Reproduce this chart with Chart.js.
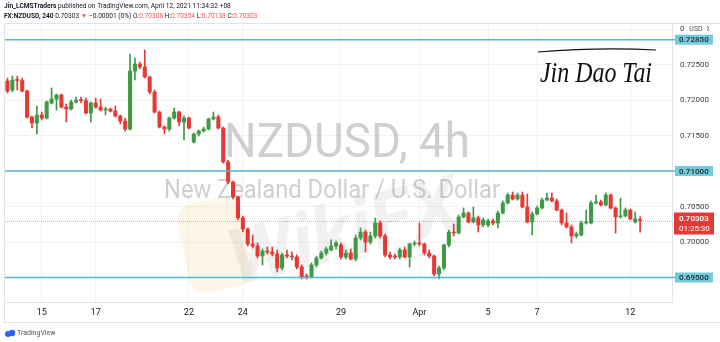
<!DOCTYPE html>
<html>
<head>
<meta charset="utf-8">
<title>NZDUSD, 4h</title>
<script src="https://cdn.jsdelivr.net/npm/chart.js@4.4.1/dist/chart.umd.min.js"></script>
<style>
  html, body { margin: 0; padding: 0; background: #fff; }
  #chart { display: block; }
</style>
</head>
<body>
<canvas id="chart" width="720" height="342"></canvas>
<script>
// 4h candles, NZDUSD, 12 Mar - 12 Apr 2021
const opens = [
  0.72268, 0.72141, 0.72282, 0.72275, 0.72127, 0.71761, 0.71676, 0.71789, 0.71746, 0.71958,
  0.72014, 0.72070, 0.71901, 0.71873, 0.71972, 0.72000, 0.71993, 0.71817, 0.71958, 0.71901,
  0.71859, 0.71873, 0.71845, 0.71775, 0.71704, 0.71592, 0.72408, 0.72507, 0.72465, 0.72324,
  0.72113, 0.71831, 0.71620, 0.71592, 0.71746, 0.71831, 0.71690, 0.71746, 0.71408, 0.71521,
  0.71563, 0.71592, 0.71732, 0.71761, 0.71606, 0.71127, 0.70845, 0.70634, 0.70339, 0.70183,
  0.69972, 0.69944, 0.69803, 0.69874, 0.69859, 0.69831, 0.69634, 0.69817, 0.69803, 0.69789,
  0.69648, 0.69521, 0.69507, 0.69677, 0.69775, 0.69845, 0.69888, 0.69944, 0.69958, 0.69789,
  0.69845, 0.69761, 0.70057, 0.70141, 0.70000, 0.70085, 0.70268, 0.70085, 0.69817, 0.69803,
  0.69789, 0.69888, 0.69789, 0.69972, 0.69986, 0.69972, 0.69845, 0.69803, 0.69550, 0.69634,
  0.69958, 0.70141, 0.70127, 0.70353, 0.70409, 0.70282, 0.70339, 0.70240, 0.70240, 0.70296,
  0.70268, 0.70409, 0.70550, 0.70662, 0.70606, 0.70662, 0.70493, 0.70282, 0.70395, 0.70479,
  0.70592, 0.70620, 0.70578, 0.70451, 0.70268, 0.70212, 0.70085, 0.70099, 0.70268, 0.70268,
  0.70550, 0.70564, 0.70522, 0.70662, 0.70479, 0.70353, 0.70367, 0.70451, 0.70282, 0.70308
];
const highs = [
  0.72310, 0.72338, 0.72338, 0.72310, 0.72141, 0.71775, 0.71915, 0.71831, 0.71986, 0.72169,
  0.72085, 0.72085, 0.71944, 0.72000, 0.72042, 0.72042, 0.72028, 0.71972, 0.72028, 0.72014,
  0.71901, 0.71887, 0.71915, 0.71789, 0.71746, 0.72648, 0.72592, 0.72535, 0.72704, 0.72338,
  0.72141, 0.71845, 0.71634, 0.71761, 0.71887, 0.71845, 0.71775, 0.71761, 0.71535, 0.71577,
  0.71620, 0.71746, 0.71831, 0.71789, 0.71620, 0.71155, 0.70859, 0.70648, 0.70367, 0.70198,
  0.70099, 0.69986, 0.69902, 0.69930, 0.69930, 0.69888, 0.69845, 0.69888, 0.69859, 0.69817,
  0.69677, 0.69550, 0.69705, 0.69803, 0.69874, 0.69930, 0.70029, 0.70014, 0.69986, 0.69888,
  0.69902, 0.70099, 0.70198, 0.70169, 0.70141, 0.70339, 0.70296, 0.70113, 0.69859, 0.69831,
  0.69916, 0.69930, 0.69986, 0.70014, 0.70268, 0.69986, 0.69888, 0.69817, 0.69662, 0.69972,
  0.70169, 0.70254, 0.70381, 0.70479, 0.70423, 0.70493, 0.70367, 0.70339, 0.70324, 0.70324,
  0.70437, 0.70578, 0.70690, 0.70704, 0.70690, 0.70704, 0.70676, 0.70423, 0.70507, 0.70620,
  0.70690, 0.70690, 0.70606, 0.70465, 0.70409, 0.70240, 0.70141, 0.70296, 0.70451, 0.70578,
  0.70662, 0.70592, 0.70690, 0.70676, 0.70493, 0.70620, 0.70479, 0.70465, 0.70423, 0.70354
];
const lows = [
  0.72099, 0.72113, 0.72141, 0.72113, 0.71746, 0.71606, 0.71521, 0.71718, 0.71732, 0.71944,
  0.71859, 0.71887, 0.71690, 0.71859, 0.71958, 0.71958, 0.71803, 0.71690, 0.71887, 0.71845,
  0.71789, 0.71831, 0.71761, 0.71662, 0.71563, 0.71577, 0.72282, 0.72437, 0.72310, 0.72085,
  0.71817, 0.71606, 0.71521, 0.71563, 0.71732, 0.71634, 0.71437, 0.71592, 0.71394, 0.71493,
  0.71549, 0.71577, 0.71718, 0.71592, 0.71113, 0.70817, 0.70606, 0.70310, 0.70141, 0.69944,
  0.69916, 0.69775, 0.69677, 0.69831, 0.69803, 0.69578, 0.69606, 0.69775, 0.69747, 0.69620,
  0.69479, 0.69479, 0.69493, 0.69648, 0.69761, 0.69817, 0.69874, 0.69902, 0.69761, 0.69761,
  0.69747, 0.69733, 0.70029, 0.69859, 0.69972, 0.70057, 0.70057, 0.69789, 0.69761, 0.69761,
  0.69761, 0.69775, 0.69648, 0.69944, 0.69944, 0.69817, 0.69775, 0.69521, 0.69479, 0.69606,
  0.69930, 0.70085, 0.70113, 0.70339, 0.70268, 0.70268, 0.70141, 0.70212, 0.70212, 0.70240,
  0.70198, 0.70395, 0.70536, 0.70592, 0.70592, 0.70479, 0.70268, 0.70099, 0.70381, 0.70465,
  0.70578, 0.70564, 0.70437, 0.70240, 0.70198, 0.69986, 0.70057, 0.70085, 0.70254, 0.70254,
  0.70536, 0.70508, 0.70508, 0.70465, 0.70127, 0.70339, 0.70353, 0.70310, 0.70268, 0.70138
];
const closes = [
  0.72127, 0.72282, 0.72275, 0.72127, 0.71761, 0.71676, 0.71789, 0.71746, 0.71972, 0.72014,
  0.72070, 0.71901, 0.71873, 0.71972, 0.72000, 0.71993, 0.71817, 0.71958, 0.71901, 0.71859,
  0.71873, 0.71845, 0.71775, 0.71704, 0.71592, 0.72408, 0.72507, 0.72465, 0.72324, 0.72113,
  0.71831, 0.71620, 0.71592, 0.71746, 0.71831, 0.71690, 0.71746, 0.71606, 0.71521, 0.71563,
  0.71592, 0.71732, 0.71761, 0.71606, 0.71127, 0.70845, 0.70634, 0.70339, 0.70183, 0.69972,
  0.69944, 0.69803, 0.69874, 0.69859, 0.69831, 0.69634, 0.69817, 0.69803, 0.69789, 0.69648,
  0.69507, 0.69500, 0.69677, 0.69775, 0.69845, 0.69902, 0.69944, 0.69986, 0.69789, 0.69845,
  0.69761, 0.70057, 0.70141, 0.70000, 0.70085, 0.70268, 0.70085, 0.69817, 0.69789, 0.69789,
  0.69888, 0.69789, 0.69972, 0.69986, 0.69972, 0.69845, 0.69803, 0.69550, 0.69634, 0.69958,
  0.70141, 0.70127, 0.70353, 0.70409, 0.70282, 0.70339, 0.70240, 0.70310, 0.70296, 0.70268,
  0.70409, 0.70550, 0.70662, 0.70606, 0.70662, 0.70493, 0.70282, 0.70395, 0.70479, 0.70592,
  0.70620, 0.70578, 0.70451, 0.70268, 0.70212, 0.70085, 0.70113, 0.70268, 0.70282, 0.70550,
  0.70564, 0.70522, 0.70662, 0.70479, 0.70353, 0.70367, 0.70451, 0.70324, 0.70324, 0.70303
];

// time axis: 136 candle slots (the last few empty), labels only at day marks
const slotCount = 136;
const timeTicks = ['15', '17', '22', '24', '29', 'Apr', '5', '7', '12'];
const timeTickSlots = [7, 18, 37, 48, 68, 84, 98, 108, 127];

// price axis
const priceTicks = [0.695, 0.700, 0.705, 0.710, 0.715, 0.720, 0.725, 0.730];
const levels = [0.7285, 0.710, 0.695];
const lastPrice = 0.70303;
const countdown = '01:25:30';
const yMin = 0.69155;
const yMax = 0.73071;

const UP = '#3d9a45';
const DOWN = '#e53935';
const LEVEL = '#55b7cb';
const FONT = 'Roboto, "Liberation Sans", sans-serif';

const slots = Array.from({ length: slotCount }, () => '');
timeTickSlots.forEach((s, k) => { slots[s] = timeTicks[k]; });

const colors = opens.map((o, i) => closes[i] >= o ? UP : DOWN);
const wicks = opens.map((_, i) => [lows[i], highs[i]]);
const bodies = opens.map((o, i) => [Math.min(o, closes[i]), Math.max(o, closes[i])]);

function drawRuns(ctx, x, y, runs) {
    runs.forEach(([text, font, color]) => {
        ctx.font = font;
        ctx.fillStyle = color;
        ctx.fillText(text, x, y);
        x += ctx.measureText(text).width;
    });
}

const overlay = {
    id: 'overlay',
    beforeDatasetsDraw(chart) {
        const { ctx, chartArea: a } = chart;
        ctx.save();
        ctx.beginPath();
        ctx.rect(a.left, a.top, a.right - a.left, a.bottom - a.top);
        ctx.clip();

        // WikiFX watermark
        ctx.save();
        ctx.translate(215, 245);
        ctx.rotate(-0.2);
        ctx.fillStyle = 'rgba(245, 196, 100, 0.16)';
        ctx.beginPath();
        ctx.roundRect(-32, -45, 64, 90, 16);
        ctx.fill();
        ctx.restore();
        ctx.save();
        ctx.translate(345, 238);
        ctx.rotate(-0.25);
        ctx.fillStyle = 'rgba(60, 60, 70, 0.07)';
        ctx.font = 'bold italic 78px ' + FONT;
        ctx.textAlign = 'center';
        ctx.textBaseline = 'middle';
        ctx.fillText('WikiFX', 0, 0, 270);
        ctx.restore();

        // symbol watermark
        ctx.fillStyle = 'rgba(120, 123, 134, 0.36)';
        ctx.textAlign = 'center';
        ctx.textBaseline = 'alphabetic';
        ctx.font = '49px ' + FONT;
        ctx.fillText('NZDUSD, 4h', 347, 157, 246);
        ctx.font = '25px ' + FONT;
        ctx.fillText('New Zealand Dollar / U.S. Dollar', 332, 198, 336);
        ctx.restore();
    },
    afterDatasetsDraw(chart) {
        const { ctx, chartArea: a, scales: { y } } = chart;
        ctx.save();
        ctx.strokeStyle = LEVEL;
        ctx.lineWidth = 1.5;
        levels.forEach(v => {
            const py = y.getPixelForValue(v);
            ctx.beginPath();
            ctx.moveTo(a.left, py);
            ctx.lineTo(a.right + 3, py);
            ctx.stroke();
        });
        const lp = Math.round(y.getPixelForValue(lastPrice)) + 0.5;
        ctx.strokeStyle = 'rgba(229, 57, 53, 0.45)';
        ctx.lineWidth = 1;
        ctx.setLineDash([1, 1]);
        ctx.beginPath();
        ctx.moveTo(a.left, lp);
        ctx.lineTo(a.right, lp);
        ctx.stroke();
        ctx.restore();
    },
    afterDraw(chart) {
        const { ctx, chartArea: a, scales: { y } } = chart;
        ctx.save();

        // frame
        ctx.strokeStyle = '#e0e3eb';
        ctx.lineWidth = 1;
        ctx.beginPath();
        ctx.moveTo(4, 23.5); ctx.lineTo(720, 23.5);
        ctx.moveTo(4.5, 23.5); ctx.lineTo(4.5, 322.5);
        ctx.moveTo(4, 322.5); ctx.lineTo(720, 322.5);
        ctx.stroke();

        // price labels of the drawn levels
        ctx.textBaseline = 'middle';
        ctx.textAlign = 'left';
        levels.forEach(v => {
            const py = y.getPixelForValue(v);
            ctx.fillStyle = '#76cad9';
            ctx.fillRect(a.right + 3, py - 5, 38, 10);
            ctx.fillStyle = '#17363f';
            ctx.font = '600 8px ' + FONT;
            ctx.fillText(v.toFixed(5), a.right + 7, py + 0.5);
        });

        // last price + countdown
        const lp = y.getPixelForValue(lastPrice);
        ctx.fillStyle = '#e23b35';
        ctx.fillRect(a.right + 2, lp - 8, 40, 22);
        ctx.fillStyle = '#ffffff';
        ctx.font = '600 8px ' + FONT;
        ctx.fillText(lastPrice.toFixed(5), a.right + 7, lp - 1.5);
        ctx.font = '8px ' + FONT;
        ctx.fillText(countdown, a.right + 7, lp + 8.5);

        // currency label over the top tick
        const top = y.getPixelForValue(0.730);
        ctx.fillStyle = '#ffffff';
        ctx.fillRect(a.right + 13, top - 5, 22, 10);
        ctx.fillStyle = '#50535e';
        ctx.font = '7px ' + FONT;
        ctx.textAlign = 'center';
        ctx.fillText('USD', a.right + 24, top + 0.5);

        // header
        ctx.textAlign = 'left';
        ctx.textBaseline = 'alphabetic';
        drawRuns(ctx, 4, 8, [
            ['Jin_LCMSTraders', 'bold 6.6px ' + FONT, '#131722'],
            [' published on TradingView.com, April 12, 2021 11:34:32 +08', '6.6px ' + FONT, '#131722']
        ]);
        const red = '#ef5350';
        const base = '6.6px ' + FONT;
        drawRuns(ctx, 4, 18, [
            ['FX:NZDUSD, 240', 'bold 6.6px ' + FONT, '#131722'],
            [' 0.70303 ', base, '#131722'],
            ['\u25BC', base, red],
            [' \u22120.00001 (0%) ', base, '#131722'],
            ['O:', base, '#131722'], ['0.70308', base, red],
            [' H:', base, '#131722'], ['0.70354', base, red],
            [' L:', base, '#131722'], ['0.70138', base, red],
            [' C:', base, '#131722'], ['0.70303', base, red]
        ]);

        // signature
        ctx.strokeStyle = '#111111';
        ctx.lineWidth = 1.2;
        ctx.beginPath();
        ctx.moveTo(538, 52);
        ctx.quadraticCurveTo(600, 47, 656, 50);
        ctx.stroke();
        ctx.fillStyle = '#111111';
        ctx.font = 'italic 30px "Liberation Serif", serif';
        ctx.fillText('Jin Dao Tai', 540, 82, 112);

        // TradingView logo
        ctx.fillStyle = '#2962ff';
        ctx.beginPath();
        ctx.arc(8, 334, 3, 0, Math.PI * 2);
        ctx.arc(12, 333, 3.2, 0, Math.PI * 2);
        ctx.fill();
        ctx.fillStyle = '#50535e';
        ctx.font = '7px ' + FONT;
        ctx.textBaseline = 'middle';
        ctx.fillText('TradingView', 17, 333.5);

        ctx.restore();
    }
};

new Chart(document.getElementById('chart'), {
    type: 'bar',
    data: {
        labels: slots,
        datasets: [
            {
                data: wicks,
                backgroundColor: colors,
                barThickness: 1,
                grouped: false,
                order: 2
            },
            {
                data: bodies,
                backgroundColor: colors,
                barThickness: 3.4,
                minBarLength: 1,
                grouped: false,
                order: 1
            }
        ]
    },
    options: {
        responsive: false,
        animation: false,
        layout: { padding: { top: 24, left: 5, right: 0, bottom: 20 } },
        plugins: {
            legend: { display: false },
            tooltip: { enabled: false }
        },
        scales: {
            x: {
                offset: true,
                border: { color: '#e0e3eb' },
                grid: {
                    offset: false,
                    drawTicks: false,
                    color: c => (c.tick && c.tick.label) ? 'rgba(42, 46, 57, 0.06)' : 'rgba(0,0,0,0)'
                },
                ticks: {
                    autoSkip: false,
                    maxRotation: 0,
                    padding: 5,
                    color: '#131722',
                    font: { family: FONT, size: 9 }
                },
                afterFit: s => { s.height = 20; }
            },
            y: {
                position: 'right',
                min: yMin,
                max: yMax,
                beginAtZero: false,
                border: { color: '#e0e3eb' },
                grid: { drawTicks: false, color: 'rgba(42, 46, 57, 0.06)' },
                afterBuildTicks: s => { s.ticks = priceTicks.map(v => ({ value: v })); },
                ticks: {
                    padding: 8,
                    color: '#3a3d46',
                    font: { family: FONT, size: 8 },
                    callback: v => levels.includes(v) ? '' : v.toFixed(5)
                },
                afterFit: s => { s.width = 48; }
            }
        }
    },
    plugins: [overlay]
});
</script>
</body>
</html>
